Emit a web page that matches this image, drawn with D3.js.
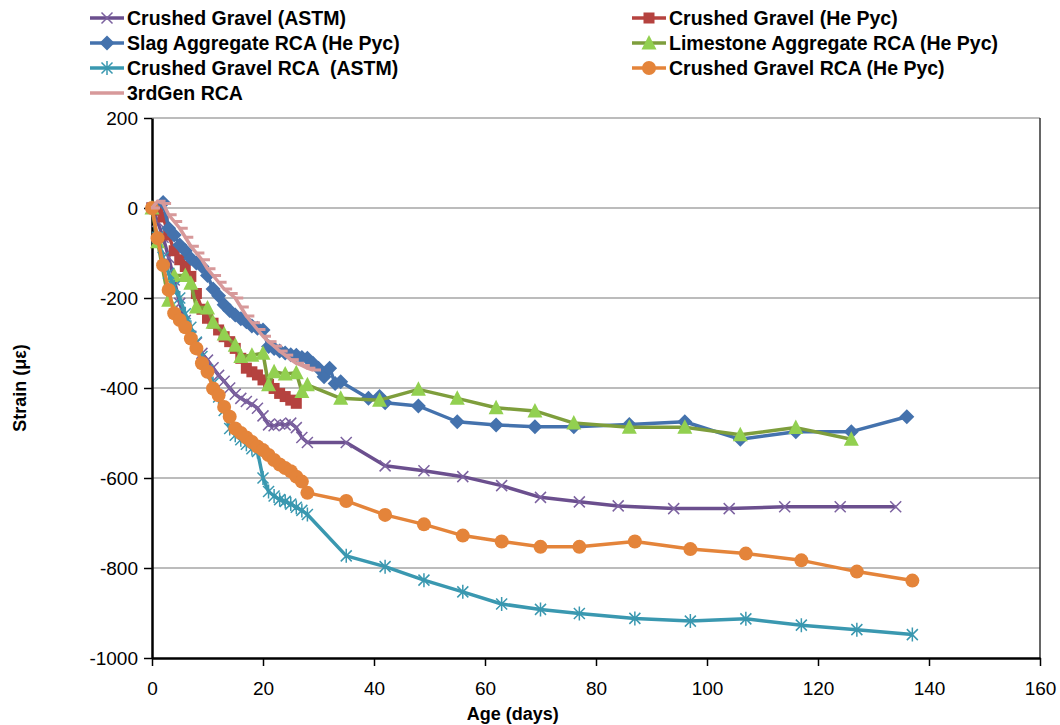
<!DOCTYPE html>
<html>
<head>
<meta charset="utf-8">
<script src="https://cdn.jsdelivr.net/npm/d3@7"></script>
<style>
  body { margin: 0; background: #fff; }
  svg { display: block; font-family: "Liberation Sans", Arial, sans-serif; }
</style>
</head>
<body>
<svg id="chart" width="1060" height="725"></svg>
<script>
// ---- data (age in days, strain in microstrain) ----
const seriesNames = [
  "Crushed Gravel (ASTM)", "Crushed Gravel (He Pyc)",
  "Slag Aggregate RCA (He Pyc)", "Limestone Aggregate RCA (He Pyc)",
  "Crushed Gravel RCA  (ASTM)", "Crushed Gravel RCA (He Pyc)",
  "3rdGen RCA"
];

const gravelAstmDays = [0,1,2,3,4,5,6,7,8,9,10,11,12,13,14,15,16,17,18,19,20,21,22,23,24,25,26,27,28,35,42,49,56,63,70,77,84,94,104,114,124,134];
const gravelAstmStrain = [0,-30,-65,-110,-160,-212,-250,-285,-300,-323,-338,-355,-372,-385,-400,-414,-423,-430,-436,-445,-462,-482,-484,-480,-482,-478,-488,-510,-521,-521,-573,-584,-597,-617,-643,-653,-662,-668,-668,-664,-664,-664];

const gravelPycDays = [0,1,2,3,4,5,6,7,8,9,10,11,12,13,14,15,16,17,18,19,20,21,22,23,24,25,26];
const gravelPycStrain = [0,-5,-20,-60,-95,-115,-130,-152,-190,-225,-245,-256,-271,-286,-297,-312,-334,-356,-364,-371,-382,-392,-401,-412,-419,-427,-434];

const slagDays = [0,2,3,4,5,6,7,8,9,10,11,12,13,14,15,16,17,18,19,20,21,22,23,24,25,26,27,28,29,30,31,32,33,34,39,41,42,48,55,62,69,76,86,96,106,116,126,136];
const slagStrain = [0,12,-45,-60,-82,-95,-112,-122,-130,-150,-180,-195,-215,-228,-238,-246,-253,-262,-267,-271,-308,-312,-318,-322,-326,-327,-332,-334,-345,-356,-375,-356,-390,-386,-423,-419,-433,-440,-475,-482,-486,-486,-481,-475,-514,-497,-497,-464];

const limestoneDays = [0,1,3,4,6,7,8,10,11,13,15,16,18,20,21,22,24,26,27,28,34,41,48,55,62,69,76,86,96,106,116,126];
const limestoneStrain = [0,-75,-205,-150,-150,-167,-220,-222,-254,-280,-305,-330,-327,-323,-393,-364,-369,-366,-408,-393,-423,-427,-403,-423,-444,-451,-478,-487,-487,-504,-488,-514];

const rcaAstmDays = [1,2,3,4,5,6,7,8,9,10,11,12,13,14,15,16,17,18,19,20,21,22,23,24,25,26,27,28,35,42,49,56,63,70,77,87,97,107,117,127,137];
const rcaAstmStrain = [-65,-110,-145,-175,-200,-235,-265,-298,-330,-360,-390,-420,-450,-490,-505,-515,-525,-535,-541,-600,-630,-640,-648,-652,-658,-665,-672,-681,-773,-797,-827,-853,-880,-892,-901,-912,-918,-913,-927,-937,-948];

const rcaPycDays = [0,1,2,3,4,5,6,7,8,9,10,11,12,13,14,15,16,17,18,19,20,21,22,23,24,25,26,27,28,35,42,49,56,63,70,77,87,97,107,117,127,137];
const rcaPycStrain = [0,-67,-127,-182,-234,-249,-265,-290,-312,-345,-364,-401,-416,-442,-464,-490,-500,-510,-520,-530,-538,-549,-560,-570,-578,-585,-597,-608,-633,-651,-682,-703,-728,-741,-753,-753,-741,-758,-768,-783,-808,-828];

const thirdGenDays = [0,1,2,3,4,5,6,7,8,9,10,11,12,13,14,15,16,17,18,19,20,21,22,23,24,25,26,27,28,29];
const thirdGenStrain = [0,15,10,-15,-30,-45,-65,-85,-100,-115,-135,-150,-165,-180,-190,-200,-220,-240,-255,-270,-285,-297,-307,-318,-327,-337,-345,-350,-356,-360];

const xTicks = [0,20,40,60,80,100,120,140,160];
const yTicks = [200,0,-200,-400,-600,-800,-1000];

// ---- layout ----
const svg = d3.select("#chart");
const plot = {left: 152, right: 1040, top: 118, bottom: 658};

const x = d3.scaleLinear().domain([0, 160]).range([plot.left, plot.right]);
const y = d3.scaleLinear().domain([-1000, 200]).range([plot.bottom, plot.top]);

// gridlines
svg.append("g").selectAll("line")
  .data(yTicks.filter(v => v > -1000))
  .join("line")
  .attr("x1", plot.left).attr("x2", plot.right)
  .attr("y1", d => y(d)).attr("y2", d => y(d))
  .attr("stroke", "#a6a6a6").attr("stroke-width", 1.5);

// right border of plot area
svg.append("line")
  .attr("x1", plot.right).attr("x2", plot.right)
  .attr("y1", plot.top).attr("y2", plot.bottom)
  .attr("stroke", "#333").attr("stroke-width", 1.5);

// axes (plain hyphen minus like the original)
const fmt = d => String(d);
const xAxis = d3.axisBottom(x).tickValues(xTicks).tickFormat(fmt).tickSize(8).tickSizeOuter(0).tickPadding(16);
const yAxis = d3.axisLeft(y).tickValues(yTicks).tickFormat(fmt).tickSize(8).tickSizeOuter(0).tickPadding(6);

const gx = svg.append("g").attr("transform", "translate(0," + plot.bottom + ")").call(xAxis);
const gy = svg.append("g").attr("transform", "translate(" + plot.left + ",0)").call(yAxis);

[gx, gy].forEach(g => {
  g.select(".domain").attr("stroke", "#000").attr("stroke-width", 2.5);
  g.selectAll(".tick line").attr("stroke", "#000").attr("stroke-width", 1.5);
  g.selectAll(".tick text")
    .attr("fill", "#000")
    .style("font-size", "19px")
    .style("font-family", "'Liberation Sans Narrow', 'Liberation Sans', Arial, sans-serif");
});

svg.append("text")
  .attr("x", x(65)).attr("y", 720)
  .attr("text-anchor", "middle")
  .style("font-size", "18px").style("font-weight", "bold")
  .text("Age (days)");

svg.append("text")
  .attr("transform", "translate(26," + y(-400) + ") rotate(-90)")
  .attr("text-anchor", "middle")
  .style("font-size", "18px").style("font-weight", "bold")
  .text("Strain (με)");

// ---- series ----
const series = [
  {name: seriesNames[0], days: gravelAstmDays, vals: gravelAstmStrain, line: "#6b4f8e", fill: "#7c62a0", marker: "cross"},
  {name: seriesNames[1], days: gravelPycDays, vals: gravelPycStrain, line: "#b6433f", fill: "#b5423f", marker: "square"},
  {name: seriesNames[2], days: slagDays, vals: slagStrain, line: "#4472ad", fill: "#4472ad", marker: "diamond"},
  {name: seriesNames[3], days: limestoneDays, vals: limestoneStrain, line: "#7e9e3c", fill: "#92d050", marker: "triangle"},
  {name: seriesNames[4], days: rcaAstmDays, vals: rcaAstmStrain, line: "#3a98b0", fill: "#3a98b0", marker: "star"},
  {name: seriesNames[5], days: rcaPycDays, vals: rcaPycStrain, line: "#e4843a", fill: "#e4843a", marker: "circle"},
  {name: seriesNames[6], days: thirdGenDays, vals: thirdGenStrain, line: "#d7999a", fill: "#d7999a", marker: "dash"}
];

const line = d3.line().x(d => x(d[0])).y(d => y(d[1]));

function drawMarker(g, type, color, fill) {
  if (type === "cross") {
    g.append("path").attr("d", "M-5.5,-5.5L5.5,5.5M-5.5,5.5L5.5,-5.5")
      .attr("stroke", fill).attr("stroke-width", 1.5).attr("fill", "none");
  } else if (type === "star") {
    g.append("path").attr("d", "M-5.5,-5.5L5.5,5.5M-5.5,5.5L5.5,-5.5M0,-7L0,7")
      .attr("stroke", fill).attr("stroke-width", 1.5).attr("fill", "none");
  } else if (type === "square") {
    g.append("rect").attr("x", -5.5).attr("y", -5.5).attr("width", 11).attr("height", 11).attr("fill", fill);
  } else if (type === "diamond") {
    g.append("path").attr("d", "M0,-7.5L7.5,0L0,7.5L-7.5,0Z").attr("fill", fill);
  } else if (type === "triangle") {
    g.append("path").attr("d", "M0,-8L7.5,6.5L-7.5,6.5Z").attr("fill", fill);
  } else if (type === "circle") {
    g.append("circle").attr("r", 7).attr("fill", fill);
  } else if (type === "dash") {
    g.append("rect").attr("x", -1).attr("y", -1.5).attr("width", 9).attr("height", 3).attr("fill", fill);
  }
}

series.forEach(s => {
  const pts = s.days.map((d, i) => [d, s.vals[i]]);
  const g = svg.append("g");
  g.append("path").datum(pts)
    .attr("d", line)
    .attr("fill", "none")
    .attr("stroke", s.line)
    .attr("stroke-width", 3.5)
    .attr("stroke-linejoin", "round");
  g.selectAll("g.pt").data(pts).join("g")
    .attr("class", "pt")
    .attr("transform", d => "translate(" + x(d[0]) + "," + y(d[1]) + ")")
    .each(function () { drawMarker(d3.select(this), s.marker, s.line, s.fill); });
});

// ---- legend ----
const legendPos = [
  [90, 18], [632, 18],
  [90, 43], [632, 43],
  [90, 68], [632, 68],
  [90, 93]
];

series.forEach((s, i) => {
  const [lx, ly] = legendPos[i];
  const g = svg.append("g").attr("transform", "translate(" + lx + "," + ly + ")");
  g.append("line").attr("x1", 0).attr("x2", 34).attr("y1", 0).attr("y2", 0)
    .attr("stroke", s.line).attr("stroke-width", 3.5);
  if (s.marker !== "dash") {
    const m = g.append("g").attr("transform", "translate(17,0)");
    drawMarker(m, s.marker, s.line, s.fill);
  }
  g.append("text").attr("x", 37).attr("y", 7)
    .style("font-size", "19.5px").style("font-weight", "bold")
    .style("white-space", "pre")
    .text(s.name);
});
</script>
</body>
</html>
